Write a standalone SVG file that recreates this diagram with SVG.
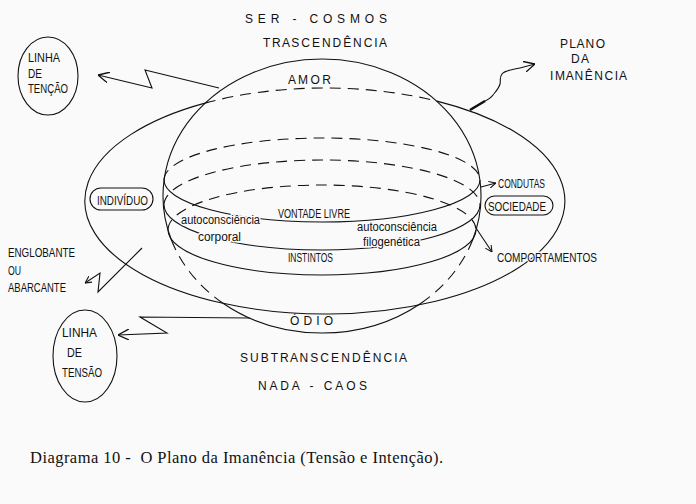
<svg xmlns="http://www.w3.org/2000/svg" width="696" height="504" viewBox="0 0 696 504">
<style>
.l{fill:none;stroke:#111;stroke-width:1.1}
.d{stroke-dasharray:11 7}
.t{font-family:"Liberation Sans",Arial,sans-serif;font-size:12px;fill:#111}
.s{font-size:13px}
.h{stroke:#fafafa;stroke-width:3;paint-order:stroke;stroke-linejoin:round}
.cap{font-family:"Liberation Serif","Times New Roman",serif;font-size:16.5px;fill:#111}
</style>
<defs>
<marker id="ah" viewBox="0 0 10 10" refX="10" refY="5" markerWidth="11" markerHeight="11" markerUnits="userSpaceOnUse" orient="auto">
<path d="M0,0 L10,5 L0,10" fill="none" stroke="#111" stroke-width="1.2"/>
</marker>
<marker id="ahs" viewBox="0 0 10 10" refX="10" refY="5" markerWidth="7" markerHeight="7" markerUnits="userSpaceOnUse" orient="auto">
<path d="M0,0 L10,5 L0,10" fill="none" stroke="#111" stroke-width="1.5"/>
</marker>
</defs>
<rect width="696" height="504" fill="#fafafa"/>

<g id="plane">
<path class="l d" d="M205,103.1 A240,113 0 0 1 437,101.1"/>
<path class="l" d="M437,101.1 A240,113 0 1 1 205,103.1"/>
</g>

<g id="sphere">
<path class="l" d="M171.4,240 A159,137 0 1 1 472.6,240"/>
<path class="l d" d="M171.4,240 A159,137 0 0 0 223,303.2"/>
<path class="l" d="M223,303.2 A159,137 0 0 0 421,303.2"/>
<path class="l d" d="M421,303.2 A159,137 0 0 0 472.6,240"/>
</g>

<g id="level-a">
<path class="l d" d="M164,180 A158,42 0 0 1 480,180"/>
<path class="l" d="M164,180 A158,42 0 0 0 480,180"/>
</g>
<g id="level-b">
<path class="l d" d="M164,205 A158,45 0 0 1 480,205"/>
<path class="l" d="M164,205 A158,45 0 0 0 480,205"/>
</g>
<g id="level-c">
<path class="l d" d="M168,230 A154,45 0 0 1 476,230"/>
<path class="l" d="M168,230 A154,45 0 0 0 476,230"/>
</g>

<g id="connectors">
<polyline class="l" points="219,88 145,70 152,88 98,75" marker-end="url(#ah)"/>
<polyline class="l" points="250,318 140,317 167,333 118,335" marker-end="url(#ah)"/>
<polyline class="l" points="142,248 98,292 100,273 85,283" marker-end="url(#ahs)"/>
<path class="l" d="M470,110 C478,104 490,100 493,95 C497,90 499,88 500,84 C501,80 499,78 502,74 C505,70 512,70 520,68 L535,64" marker-end="url(#ah)"/>
<path d="M470,110 L485,101" fill="none" stroke="#111" stroke-width="2.4"/>
<line class="l" x1="481" y1="187" x2="496" y2="183" marker-end="url(#ahs)"/>
<line class="l" x1="476" y1="228" x2="492" y2="252" marker-end="url(#ahs)"/>
</g>

<g id="titles">
<text class="t" x="245" y="23" textLength="142" xml:space="preserve">S E R   -   C O S M O S</text>
<text class="t" x="263" y="47" textLength="124">T R A S C E N D Ê N C I A</text>
<text class="t" x="288" y="84" textLength="43">A M O R</text>
<text class="t" x="290" y="325" textLength="43">Ó D I O</text>
<text class="t" x="240" y="362" textLength="167">S U B T R A N S C E N D Ê N C I A</text>
<text class="t" x="258" y="390" textLength="109" xml:space="preserve">N A D A   -   C A O S</text>
</g>

<g id="plano-imanencia">
<text class="t" x="560" y="48" textLength="45">P L A N O</text>
<text class="t" x="571" y="63" textLength="18">D A</text>
<text class="t" x="550" y="80" textLength="77">I M A N Ê N C I A</text>
</g>

<g id="linha-tencao">
<ellipse class="l" cx="48" cy="76" rx="30" ry="39"/>
<text class="t s" x="28" y="62" textLength="32" lengthAdjust="spacingAndGlyphs">LINHA</text>
<text class="t s" x="28" y="78" textLength="14" lengthAdjust="spacingAndGlyphs">DE</text>
<text class="t s" x="28" y="93" textLength="40" lengthAdjust="spacingAndGlyphs">TENÇÃO</text>
</g>

<g id="linha-tensao">
<ellipse class="l" cx="85" cy="356" rx="32" ry="46"/>
<text class="t s" x="62" y="337" textLength="35" lengthAdjust="spacingAndGlyphs">LINHA</text>
<text class="t s" x="67" y="357" textLength="15" lengthAdjust="spacingAndGlyphs">DE</text>
<text class="t s" x="62" y="377" textLength="40" lengthAdjust="spacingAndGlyphs">TENSÃO</text>
</g>

<g id="englobante">
<text class="t s" x="8" y="257" textLength="67" lengthAdjust="spacingAndGlyphs">ENGLOBANTE</text>
<text class="t s" x="8" y="275" textLength="13" lengthAdjust="spacingAndGlyphs">OU</text>
<text class="t s" x="8" y="292" textLength="58" lengthAdjust="spacingAndGlyphs">ABARCANTE</text>
</g>

<g id="individuo">
<rect class="l" x="90" y="188" width="63" height="22" rx="11"/>
<text class="t s" x="97" y="205" textLength="51" lengthAdjust="spacingAndGlyphs">INDIVÍDUO</text>
</g>

<g id="sociedade">
<rect class="l" x="485" y="196" width="68" height="19" rx="9.5"/>
<text class="t s" x="488" y="211" textLength="58" lengthAdjust="spacingAndGlyphs">SOCIEDADE</text>
</g>

<g id="condutas">
<text class="t" x="498" y="188" textLength="47" lengthAdjust="spacingAndGlyphs">CONDUTAS</text>
</g>
<g id="comportamentos">
<text class="t s h" x="497" y="262" textLength="100" lengthAdjust="spacingAndGlyphs">COMPORTAMENTOS</text>
</g>

<g id="inner-labels">
<text class="t h" x="278" y="218" textLength="72" lengthAdjust="spacingAndGlyphs">VONTADE LIVRE</text>
<text class="t" x="288" y="262" textLength="45" lengthAdjust="spacingAndGlyphs">INSTINTOS</text>
<text class="t h" x="181" y="224" textLength="79" lengthAdjust="spacingAndGlyphs">autoconsciência</text>
<text class="t h" x="198" y="241" textLength="43" lengthAdjust="spacingAndGlyphs">corporal</text>
<text class="t h" x="357" y="231" textLength="80" lengthAdjust="spacingAndGlyphs">autoconsciência</text>
<text class="t h" x="363" y="246" textLength="57" lengthAdjust="spacingAndGlyphs">filogenética</text>
</g>

<text class="cap" x="30" y="463" textLength="413" xml:space="preserve">Diagrama 10 -  O Plano da Imanência (Tensão e Intenção).</text>
</svg>
